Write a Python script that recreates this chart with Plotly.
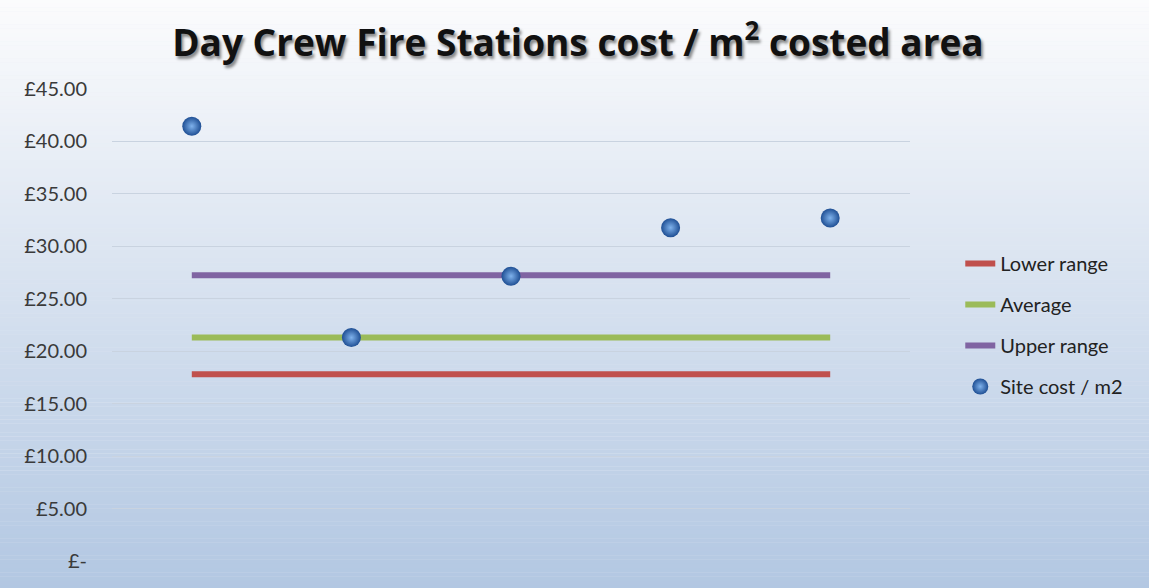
import plotly.graph_objects as go

# ---- data ----
sites = ["Site 1", "Site 2", "Site 3", "Site 4", "Site 5"]
site_cost = [41.45, 21.3, 27.15, 31.78, 32.7]
lower_range = [17.8, 17.8, 17.8, 17.8, 17.8]
average = [21.3, 21.3, 21.3, 21.3, 21.3]
upper_range = [27.25, 27.25, 27.25, 27.25, 27.25]
tick_vals = [0, 5, 10, 15, 20, 25, 30, 35, 40, 45]
tick_text = ["£-", "£5.00", "£10.00", "£15.00", "£20.00", "£25.00",
             "£30.00", "£35.00", "£40.00", "£45.00"]

FONT = "Lato"
fig = go.Figure()

line_specs = [
    ("Lower range", lower_range, "#C0504D"),
    ("Average", average, "#9BBB59"),
    ("Upper range", upper_range, "#8064A2"),
]
for i, (name, vals, col) in enumerate(line_specs):
    fig.add_trace(go.Scatter(
        x=sites, y=vals, name=name, mode="lines",
        line=dict(color=col, width=6),
        legendgroup=f"g{i}",
    ))

fig.add_trace(go.Scatter(
    x=sites, y=site_cost, name="Site cost / m2", mode="markers",
    marker=dict(size=19, color="#1F4F94",
                gradient=dict(type="radial", color="#7FB2EC"),
                line=dict(width=0)),
    legendgroup="g3",
))

# background gradient (white -> light blue), as stacked paper shapes
n = 140
top = (252, 252, 253)
bot = (178, 199, 226)
h = 1.26 / n
for k in range(n):
    t = k / (n - 1)
    c = tuple(round(top[j] + (bot[j] - top[j]) * t) for j in range(3))
    fig.add_shape(type="rect", xref="paper", yref="paper",
                  x0=-0.2, x1=1.4, y0=1.2 - (k + 1.05) * h, y1=1.2 - k * h,
                  fillcolor=f"rgb{c}", line=dict(width=0), layer="below")

fig.update_layout(
    width=1149, height=588,
    margin=dict(l=112, r=239, t=89, b=27),
    paper_bgcolor="#E6ECF4",
    plot_bgcolor="rgba(0,0,0,0)",
    title=dict(
        text="Day Crew Fire Stations cost / m<sup>2</sup> costed area",
        x=0.503, xanchor="center", y=0.927, yanchor="middle",
        font=dict(family="Open Sans", size=37, color="#111111", weight="bold",
                  shadow="2px 3px 3px rgba(0,0,0,0.45)"),
    ),
    xaxis=dict(type="category", range=[-0.5, 4.5], showgrid=False,
               showticklabels=False, zeroline=False, showline=False),
    yaxis=dict(range=[0, 45], tickvals=tick_vals, ticktext=tick_text,
               showgrid=True, gridcolor="#C9D3E0", gridwidth=1,
               zeroline=False, showline=False, ticks="",
               ticklabelstandoff=24,
               tickfont=dict(family=FONT, size=20, color="#3A3A3A")),
    legend=dict(x=1.063, xanchor="left", y=0.5, yanchor="middle",
                bgcolor="rgba(0,0,0,0)", tracegroupgap=12,
                font=dict(family=FONT, size=20, color="#222222")),
    showlegend=True,
)

fig.write_html("out.html")
